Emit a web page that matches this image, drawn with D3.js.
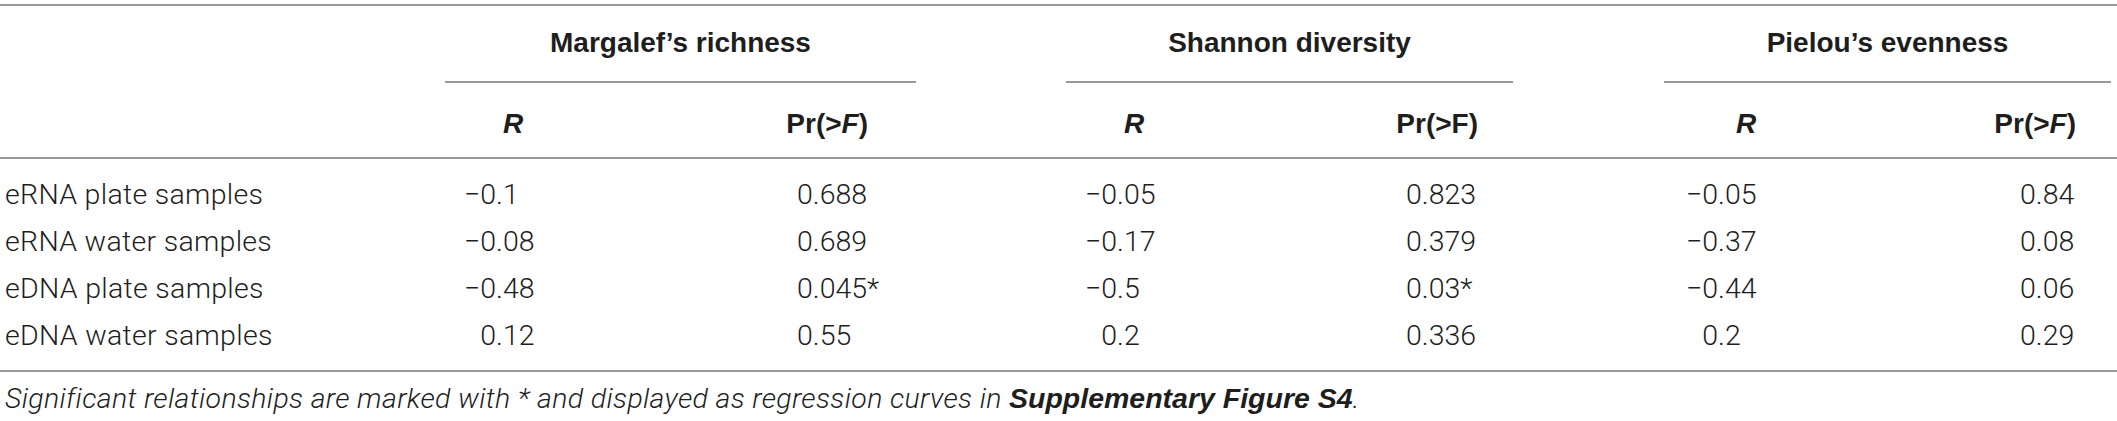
<!DOCTYPE html>
<html>
<head>
<meta charset="utf-8">
<script src="https://cdn.jsdelivr.net/npm/d3@7"></script>
<style>
  body { margin: 0; background: #fff; }
  svg text { font-family: Roboto, "Liberation Sans", Arial, sans-serif; font-weight: 300; fill: #1e1e1e; }
  svg text.hd { font-family: "Liberation Sans", Arial, sans-serif; font-weight: bold; }
</style>
</head>
<body>
<script>
// table content
const rowLabels = ['eRNA plate samples', 'eRNA water samples', 'eDNA plate samples', 'eDNA water samples']
const groups = ["Margalef\u2019s richness", 'Shannon diversity', "Pielou\u2019s evenness"]
const margalefR = [-0.1, -0.08, -0.48, 0.12]
const margalefPr = [0.688, 0.689, 0.045, 0.55]
const margalefSig = [false, false, true, false]
const shannonR = [-0.05, -0.17, -0.5, 0.2]
const shannonPr = [0.823, 0.379, 0.03, 0.336]
const shannonSig = [false, false, true, false]
const pielouR = [-0.05, -0.37, -0.44, 0.2]
const pielouPr = [0.84, 0.08, 0.06, 0.29]
const pielouSig = [false, false, false, false]
// F is italic except in the Shannon column
const prItalicF = [true, false, true]
const footnote = ['Significant relationships are marked with * and displayed as regression curves in ', 'Supplementary Figure S4', '.']

const w = 2117
const h = 421
const fontSize = 28.5
const headSize = 28

const svg = d3.select('body')
    .append('svg')
    .attr('width', w)
    .attr('height', h)

const groupX = d3.scaleOrdinal().domain(groups).range([445, 1066, 1664])
const groupW = d3.scaleOrdinal().domain(groups).range([471, 447, 447])
const y = d3.scalePoint().domain(rowLabels).range([204, 345])

const cols = [
    { r: margalefR, pr: margalefPr, sig: margalefSig },
    { r: shannonR, pr: shannonPr, sig: shannonSig },
    { r: pielouR, pr: pielouPr, sig: pielouSig }
]

const fmt = v => String(v).replace('-', '\u2212')

// horizontal rules
const rule = (x1, x2, yy) => svg.append('line')
    .attr('x1', x1).attr('x2', x2).attr('y1', yy).attr('y2', yy)
    .attr('stroke', '#777').attr('stroke-width', 1.6)
rule(0, w, 5)
rule(0, w, 158)
rule(0, w, 371)

// measure helper
const probe = svg.append('text').attr('font-size', fontSize).attr('opacity', 0)
const textW = s => { probe.text(s); return probe.node().getComputedTextLength() }

groups.forEach((g, gi) => {
    const gx = groupX(g)
    const gw = groupW(g)
    svg.append('text')
        .attr('class', 'hd')
        .attr('x', gx + gw / 2).attr('y', 52)
        .attr('text-anchor', 'middle')
        .attr('font-size', headSize)
        .text(g)
    rule(gx, gx + gw, 82)

    svg.append('text')
        .attr('class', 'hd')
        .attr('x', gx + 58 + (gi === 2 ? 14 : 0)).attr('y', 133)
        .attr('font-size', headSize).attr('font-style', 'italic')
        .text('R')

    const pr = svg.append('text')
        .attr('class', 'hd')
        .attr('x', gx + (gi === 0 ? 423 : 412)).attr('y', 133)
        .attr('text-anchor', 'end')
        .attr('font-size', headSize)
    pr.append('tspan').text('Pr(>')
    pr.append('tspan').attr('font-style', prItalicF[gi] ? 'italic' : 'normal').text('F')
    pr.append('tspan').text(')')

    const c = cols[gi]
    // R values aligned on the decimal point
    const rStart = gx + (gi === 0 ? 19 : gi === 1 ? 19 : 22)
    const decX = rStart + textW('\u22120')
    svg.append('g').selectAll('text')
        .data(c.r)
        .join('text')
        .attr('x', d => decX - textW(fmt(d).split('.')[0]))
        .attr('y', (d, i) => y(rowLabels[i]))
        .attr('font-size', fontSize)
        .text(d => fmt(d))

    const prStart = gx + (gi === 0 ? 352 : gi === 1 ? 340 : 356)
    svg.append('g').selectAll('text')
        .data(c.pr)
        .join('text')
        .attr('x', prStart)
        .attr('y', (d, i) => y(rowLabels[i]))
        .attr('font-size', fontSize)
        .text((d, i) => fmt(d) + (c.sig[i] ? '*' : ''))
})

svg.append('g').selectAll('text')
    .data(rowLabels)
    .join('text')
    .attr('x', 5)
    .attr('y', d => y(d))
    .attr('font-size', fontSize)
    .attr('letter-spacing', 0.3)
    .text(d => d)

const foot = svg.append('text')
    .attr('x', 5).attr('y', 408)
    .attr('font-size', fontSize).attr('font-style', 'italic')
    .attr('letter-spacing', 0.35)
foot.append('tspan').text(footnote[0])
foot.append('tspan')
    .style('font-family', '"Liberation Sans", Arial, sans-serif')
    .style('font-weight', 'bold')
    .attr('letter-spacing', 0)
    .text(footnote[1])
foot.append('tspan').text(footnote[2])

probe.remove()
</script>
</body>
</html>
